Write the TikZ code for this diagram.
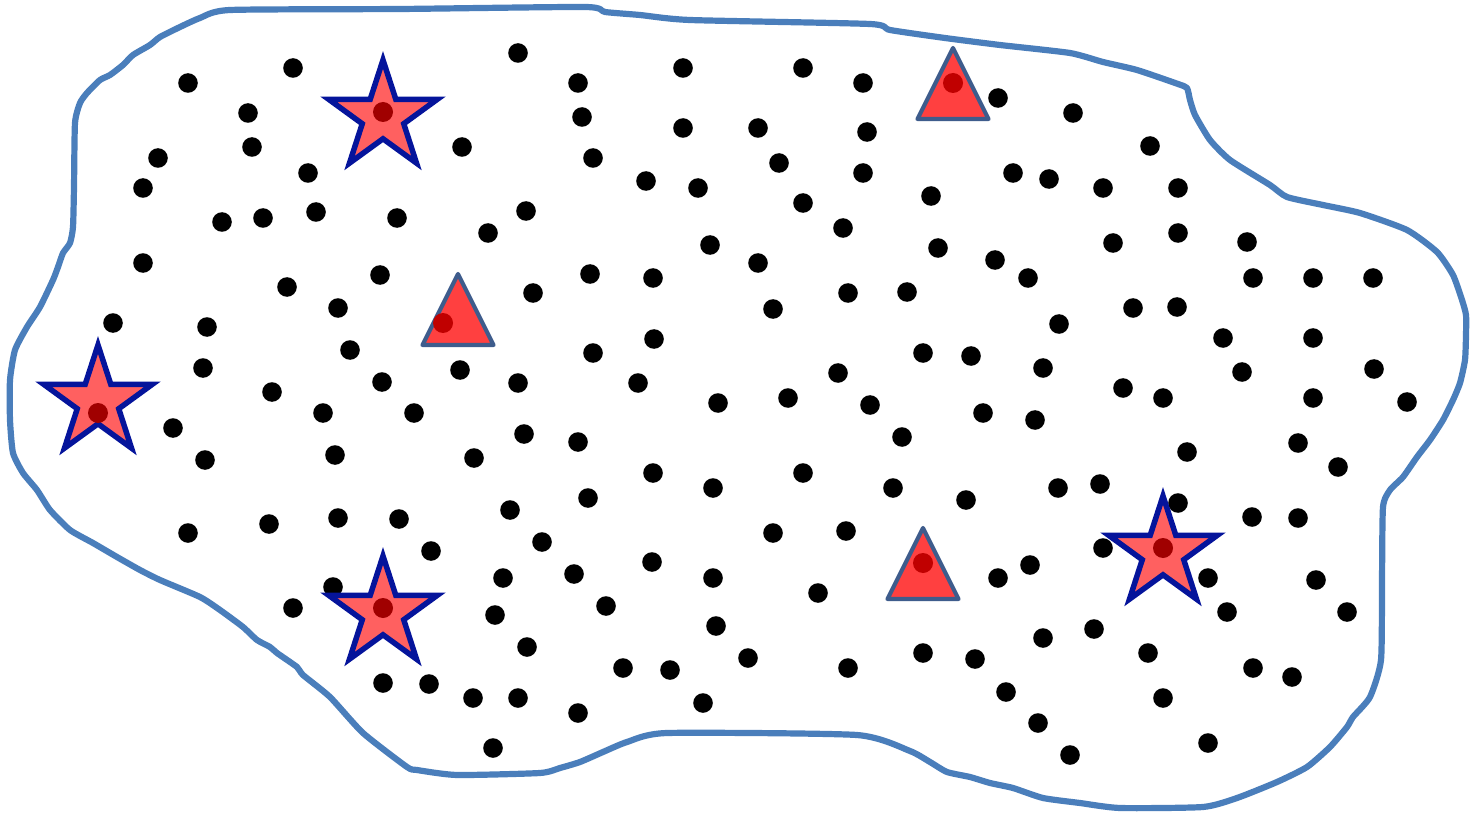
\documentclass[tikz,border=0pt]{standalone}
\begin{document}
\begin{tikzpicture}[x=1pt,y=-1pt,
  outline/.style={draw={rgb,255:red,74;green,126;blue,187},line width=6.2pt,line join=round},
  dotsty/.style={fill=black},
  starsty/.style={fill={rgb,255:red,255;green,96;blue,96},draw={rgb,255:red,5;green,20;blue,155},line width=5.5pt,line join=miter},
  stardot/.style={fill={rgb,255:red,160;green,0;blue,0}},
  tristy/.style={fill={rgb,255:red,255;green,64;blue,64},draw={rgb,255:red,62;green,92;blue,140},line width=4.2pt,line join=round},
  tridot/.style={fill={rgb,255:red,192;green,0;blue,0}}]
\useasboundingbox (0,0) rectangle (1470,813);
\fill[white] (0,0) rectangle (1470,813);
% outline
\draw[outline] plot[smooth cycle,tension=0.35] coordinates {
(230,10)(400,9)(585,7)(605,12)(640,15)(690,20)(870,24)(890,30)(945,38)(1000,45)(1070,53)(1103,62)(1137,70)(1178,84)(1187,88)(1190,100)(1195,115)(1210,140)(1230,160)(1270,185)(1287,197)(1323,205)(1360,213)(1407,230)(1437,252)(1453,275)(1462,300)(1466,315)(1466,335)(1465,360)(1460,383)(1453,400)(1443,420)(1430,440)(1417,457)(1403,477)(1390,490)(1383,507)(1382,580)(1381,660)(1370,697)(1353,717)(1347,727)(1330,747)(1307,767)(1277,782)(1237,798)(1203,807)(1120,808)(1080,803)(1043,798)(1013,788)(990,783)(970,777)(947,772)(930,762)(910,751)(857,735)(667,733)(627,742)(603,752)(580,762)(560,768)(540,773)(457,775)(417,770)(407,767)(363,733)(330,697)(303,675)(297,667)(277,653)(270,647)(257,640)(243,627)(220,610)(200,597)(160,580)(140,570)(117,557)(93,543)(70,530)(50,510)(37,490)(23,473)(13,453)(10,420)(10,380)(15,350)(27,327)(40,307)(53,280)(58,267)(63,253)(70,243)(73,227)(74,187)(75,123)(80,103)(87,93)(100,80)(110,75)(123,65)(133,55)(150,45)(160,37)(180,27)(200,18)};
% dots
\foreach \x/\y in {
188/83,293/68,518/53,578/83,683/68,803/68,863/83,998/98,1073/113,
248/113,582/117,683/128,758/128,867/132,1150/146,
158/158,252/147,462/147,593/158,779/163,
143/188,308/173,646/181,698/188,863/173,1013/173,1049/179,1103/188,1178/188,931/196,
222/222,263/218,316/212,397/218,526/211,488/233,803/203,843/228,
143/263,710/245,758/263,938/248,995/260,1113/243,1178/233,1247/242,
287/287,380/275,338/308,590/274,653/278,533/293,773/309,848/293,907/292,1028/278,1253/278,1313/278,1373/278,
113/323,207/327,654/339,1059/324,1133/308,1177/307,1223/338,1313/338,
350/350,593/353,923/353,971/356,1043/368,1242/372,1374/369,
203/368,382/382,460/370,518/383,638/383,838/373,1123/388,1163/398,1313/398,1407/402,
272/392,323/413,414/413,718/403,788/398,870/405,983/413,1035/420,
173/428,524/434,578/442,902/437,1298/443,1187/452,
205/460,335/455,474/458,653/473,803/473,713/488,893/488,966/500,1058/488,1100/484,1338/467,
588/498,1178/503,1252/517,1298/518,
188/533,269/524,338/518,399/519,510/510,773/533,846/531,
431/551,542/542,1103/548,
333/587,503/578,574/574,652/562,713/578,818/593,998/578,1030/565,1208/578,1316/580,
293/608,495/615,606/606,1227/612,1347/612,
716/626,527/647,1043/638,1094/629,1148/653,
383/683,429/684,473/698,518/698,623/668,670/670,748/658,848/668,923/653,975/659,1253/668,1292/677,
578/713,703/703,1006/692,1163/698,
493/748,1038/723,1208/743,1070/755}
  \fill[dotsty] (\x,\y) circle (9.8);
% stars
\foreach \cx/\cy/\dx/\dy [count=\i] in {383/117/383/112, 98/402/98/413, 383/613/383/608, 1163/553/1163/548}{
  \begin{scope}[shift={(\cx,\cy)}]
    \draw[starsty] (-90:57) -- (-54:21.8) -- (-18:57) -- (18:21.8) -- (54:57) -- (90:21.8) -- (126:57) -- (162:21.8) -- (198:57) -- (234:21.8) -- cycle;
  \end{scope}
  \fill[stardot] (\dx,\dy) circle (10);
}
% triangles
\foreach \tx/\ty/\dx/\dy in {953/48/953/83, 458/274/443/323, 923/528/923/563}{
  \draw[tristy] (\tx,\ty) -- (\tx+35.5,\ty+71) -- (\tx-35.5,\ty+71) -- cycle;
  \fill[tridot] (\dx,\dy) circle (10);
}
\end{tikzpicture}
\end{document}
